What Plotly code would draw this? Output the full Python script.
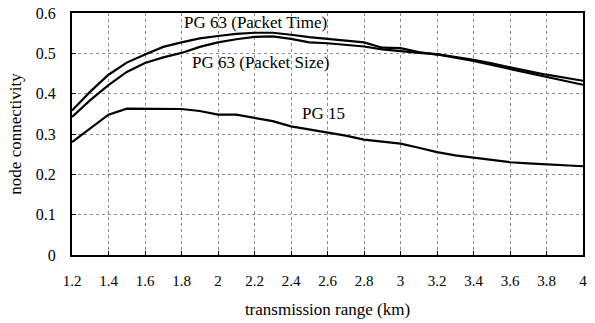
import plotly.graph_objects as go

# transmission range (km)
ranges = [1.2, 1.3, 1.4, 1.5, 1.6, 1.7, 1.8, 1.9, 2.0, 2.1, 2.2, 2.3, 2.4, 2.5,
          2.6, 2.7, 2.8, 2.9, 3.0, 3.1, 3.2, 3.3, 3.4, 3.5, 3.6, 3.7, 3.8, 3.9, 4.0]

pg63_packet_time = [0.358, 0.405, 0.447, 0.477, 0.497, 0.516, 0.527, 0.537, 0.543,
                    0.548, 0.551, 0.551, 0.546, 0.540, 0.536, 0.532, 0.527, 0.514,
                    0.513, 0.503, 0.497, 0.489, 0.481, 0.471, 0.461, 0.451, 0.442,
                    0.432, 0.422]

pg63_packet_size = [0.342, 0.384, 0.421, 0.454, 0.476, 0.490, 0.501, 0.516, 0.527,
                    0.535, 0.541, 0.542, 0.536, 0.527, 0.525, 0.521, 0.517, 0.510,
                    0.505, 0.501, 0.498, 0.491, 0.484, 0.475, 0.465, 0.456, 0.447,
                    0.440, 0.432]

pg15 = [0.280, 0.315, 0.348, 0.363, 0.363, 0.363, 0.362, 0.357, 0.348, 0.348, 0.340,
        0.332, 0.319, 0.311, 0.304, 0.296, 0.286, 0.281, 0.276, 0.266, 0.255, 0.247,
        0.241, 0.235, 0.230, 0.227, 0.225, 0.223, 0.220]

x_ticks = [1.2, 1.4, 1.6, 1.8, 2.0, 2.2, 2.4, 2.6, 2.8, 3.0, 3.2, 3.4, 3.6, 3.8, 4.0]
x_tick_text = ["1.2", "1.4", "1.6", "1.8", "2", "2.2", "2.4", "2.6", "2.8", "3",
               "3.2", "3.4", "3.6", "3.8", "4"]
y_ticks = [0, 0.1, 0.2, 0.3, 0.4, 0.5, 0.6]
y_tick_text = ["0", "0.1", "0.2", "0.3", "0.4", "0.5", "0.6"]

series_labels = [
    ("PG 63 (Packet Time)", 2.204, 0.576),
    ("PG 63 (Packet Size)", 2.232, 0.478),
    ("PG 15", 2.576, 0.350),
]

FONT = "'Liberation Serif', 'Times New Roman', serif"

fig = go.Figure()
for name, ys in [("PG 63 (Packet Time)", pg63_packet_time),
                 ("PG 63 (Packet Size)", pg63_packet_size),
                 ("PG 15", pg15)]:
    fig.add_trace(go.Scatter(x=ranges, y=ys, mode="lines", name=name,
                             line=dict(color="black", width=2.2)))

for text, x, y in series_labels:
    fig.add_annotation(x=x, y=y, text=text, showarrow=False,
                       font=dict(family=FONT, size=17, color="black"))

axis_common = dict(
    showline=True, linecolor="black", linewidth=2, mirror=True,
    showgrid=True, gridcolor="#8c8c8c", griddash="dot", gridwidth=1,
    ticks="inside", ticklen=4, tickcolor="black", tickwidth=1,
    zeroline=False, automargin=False,
)

fig.update_xaxes(range=[1.2, 4.0], tickvals=x_ticks, ticktext=x_tick_text,
                 ticklabelstandoff=11,
                 tickfont=dict(family=FONT, size=15, color="black"),
                 title=dict(text="transmission range (km)",
                            font=dict(family=FONT, size=17, color="black"),
                            standoff=15),
                 **axis_common)
fig.update_yaxes(range=[0, 0.6], tickvals=y_ticks, ticktext=y_tick_text,
                 ticklabelstandoff=11,
                 tickfont=dict(family=FONT, size=16, color="black"),
                 title=dict(text="node connectivity",
                            font=dict(family=FONT, size=17, color="black"),
                            standoff=10),
                 **axis_common)

fig.update_layout(
    width=595, height=323,
    margin=dict(l=72, r=12, t=13, b=68, autoexpand=False),
    paper_bgcolor="white", plot_bgcolor="white",
    showlegend=False,
)

fig.write_html("out.html")
